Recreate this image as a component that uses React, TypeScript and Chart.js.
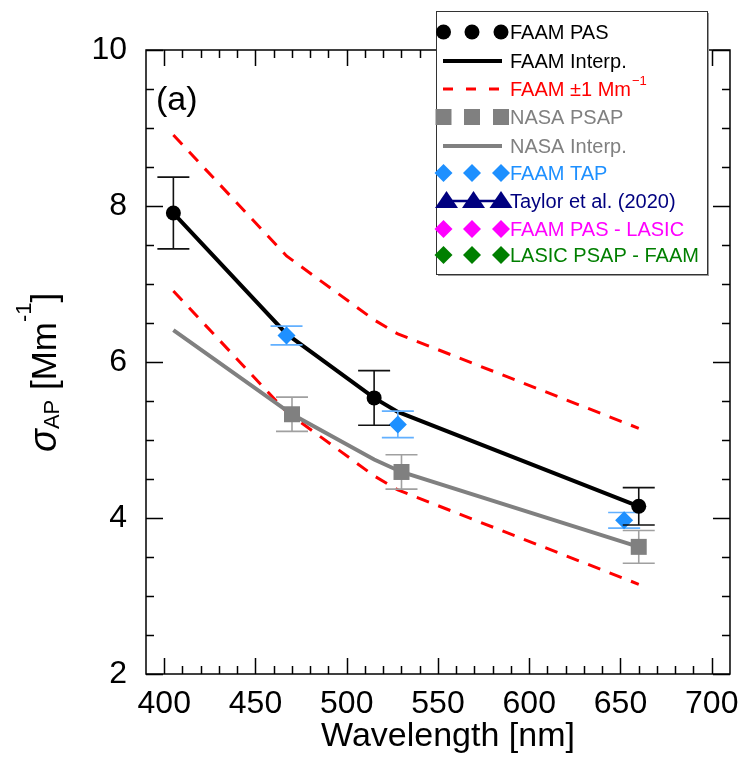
import React, { useEffect, useRef } from "react";
import { Chart, registerables } from "chart.js";

Chart.register(...registerables);

const FONT = '"Liberation Sans", Arial, Helvetica, sans-serif';

// ---- axis ticks ----
const xTickValues = [400, 450, 500, 550, 600, 650, 700];
const yTickValues = [2, 4, 6, 8, 10];

// ---- FAAM PAS ----
const pasWavelengths = [405, 515, 660];
const pasValues = [7.91, 5.54, 4.15];
const pasErrors = [0.46, 0.35, 0.24];

// ---- FAAM interpolation and ±1 Mm-1 envelope ----
const faamInterpWavelengths = [405, 467, 515, 528, 660];
const faamInterpValues = [7.91, 6.36, 5.54, 5.36, 4.15];
const faamUpperValues = [8.91, 7.36, 6.54, 6.36, 5.15];
const faamLowerValues = [6.91, 5.36, 4.54, 4.36, 3.15];

// ---- NASA PSAP ----
const psapWavelengths = [470, 530, 660];
const psapValues = [5.33, 4.59, 3.63];
const psapErrors = [0.22, 0.22, 0.21];

// ---- NASA interpolation ----
const nasaInterpWavelengths = [405, 470, 515, 530, 660];
const nasaInterpValues = [6.41, 5.33, 4.75, 4.59, 3.63];

// ---- FAAM TAP ----
const tapWavelengths = [467, 528, 652];
const tapValues = [6.34, 5.2, 3.97];
const tapErrors = [0.12, 0.17, 0.1];

// ---- legend ----
const legendLabels = [
  "FAAM PAS",
  "FAAM Interp.",
  "FAAM \u00B11 Mm",
  "NASA PSAP",
  "NASA Interp.",
  "FAAM TAP",
  "Taylor et al. (2020)",
  "FAAM PAS - LASIC",
  "LASIC PSAP - FAAM",
];

const C_BLACK = "#000000";
const C_RED = "#ff0000";
const C_GRAY = "#808080";
const C_GRAY_ERR = "#a0a0a0";
const C_BLUE = "#1e90ff";
const C_BLUE_ERR = "#62b0ff";
const C_NAVY = "#00007f";
const C_MAGENTA = "#ff00ff";
const C_GREEN = "#007f00";

const pts = (xs: number[], ys: number[]) => xs.map((x, i) => ({ x, y: ys[i] }));

function drawMarker(ctx: CanvasRenderingContext2D, kind: string, x: number, y: number, color: string) {
  ctx.fillStyle = color;
  ctx.beginPath();
  if (kind === "circle") {
    ctx.arc(x, y, 7.5, 0, Math.PI * 2);
  } else if (kind === "square") {
    ctx.rect(x - 8, y - 8, 16, 16);
  } else if (kind === "diamond") {
    ctx.moveTo(x - 9, y);
    ctx.lineTo(x, y - 9);
    ctx.lineTo(x + 9, y);
    ctx.lineTo(x, y + 9);
    ctx.closePath();
  } else if (kind === "triangle") {
    ctx.moveTo(x - 11.5, y + 6);
    ctx.lineTo(x, y - 11);
    ctx.lineTo(x + 11.5, y + 6);
    ctx.closePath();
  }
  ctx.fill();
}

const errorBarPlugin = {
  id: "errorBars",
  beforeDatasetDraw(chart: any, args: any) {
    const ds = chart.data.datasets[args.index];
    if (!ds.errors) return;
    const { ctx, scales } = chart;
    const xs = scales.x;
    const ys = scales.y;
    ctx.save();
    ctx.strokeStyle = ds.errorColor;
    ctx.lineWidth = 1.6;
    ds.data.forEach((p: any, i: number) => {
      const px = xs.getPixelForValue(p.x);
      const top = ys.getPixelForValue(p.y + ds.errors[i]);
      const bot = ys.getPixelForValue(p.y - ds.errors[i]);
      ctx.beginPath();
      ctx.moveTo(px, top);
      ctx.lineTo(px, bot);
      ctx.moveTo(px - 16, top);
      ctx.lineTo(px + 16, top);
      ctx.moveTo(px - 16, bot);
      ctx.lineTo(px + 16, bot);
      ctx.stroke();
    });
    ctx.restore();
  },
};

const framePlugin = {
  id: "frame",
  beforeDatasetsDraw(chart: any) {
    const { ctx, chartArea: a, scales } = chart;
    const xs = scales.x;
    const ys = scales.y;
    ctx.save();
    ctx.strokeStyle = "#000";
    ctx.lineWidth = 1.5;
    ctx.strokeRect(a.left, a.top, a.right - a.left, a.bottom - a.top);
    ctx.beginPath();
    for (let v = 400; v <= 700; v += 10) {
      const px = Math.round(xs.getPixelForValue(v)) + 0.5;
      const len = v % 50 === 0 ? 16 : 8;
      ctx.moveTo(px, a.bottom);
      ctx.lineTo(px, a.bottom - len);
      ctx.moveTo(px, a.top);
      ctx.lineTo(px, a.top + len);
    }
    for (let v = 2; v <= 10; v += 0.5) {
      const py = Math.round(ys.getPixelForValue(v)) + 0.5;
      const len = v % 2 === 0 ? 17 : 8;
      ctx.moveTo(a.left, py);
      ctx.lineTo(a.left + len, py);
      ctx.moveTo(a.right, py);
      ctx.lineTo(a.right - len, py);
    }
    ctx.stroke();

    // axis titles and panel label
    ctx.fillStyle = "#000";
    ctx.textBaseline = "alphabetic";
    ctx.textAlign = "center";
    ctx.font = `34px ${FONT}`;
    ctx.fillText("Wavelength [nm]", 448, 746);

    ctx.textAlign = "left";
    ctx.font = `34px ${FONT}`;
    ctx.fillText("(a)", 156, 110);

    ctx.save();
    ctx.translate(56, 452);
    ctx.rotate(-Math.PI / 2);
    let cx = 0;
    ctx.font = `italic 38px ${FONT}`;
    ctx.fillText("\u03C3", cx, 0);
    cx += ctx.measureText("\u03C3").width;
    ctx.font = `22px ${FONT}`;
    ctx.fillText("AP", cx, 3);
    cx += ctx.measureText("AP").width;
    ctx.font = `35px ${FONT}`;
    ctx.fillText(" [Mm", cx, 0);
    cx += ctx.measureText(" [Mm").width;
    ctx.font = `22px ${FONT}`;
    ctx.fillText("-1", cx, -25);
    cx += ctx.measureText("-1").width;
    ctx.font = `35px ${FONT}`;
    ctx.fillText("]", cx, 0);
    ctx.restore();
    ctx.restore();
  },
};

const legendPlugin = {
  id: "customLegend",
  afterDraw(chart: any) {
    const { ctx } = chart;
    const bx = 436, by = 11, bw = 271, bh = 263;
    ctx.save();
    ctx.fillStyle = "#9a9a9a";
    ctx.fillRect(bx + 2, by + 2, bw, bh);
    ctx.fillStyle = "#ffffff";
    ctx.fillRect(bx, by, bw, bh);
    ctx.strokeStyle = "#333";
    ctx.lineWidth = 1;
    ctx.strokeRect(bx + 0.5, by + 0.5, bw, bh);

    const rows = [32, 61, 89, 117, 146, 173, 201, 229, 255];
    const sx = [443.5, 472, 501];
    const colors = [C_BLACK, C_BLACK, C_RED, C_GRAY, C_GRAY, C_BLUE, C_NAVY, C_MAGENTA, C_GREEN];
    const kinds = ["circle", "line", "dash", "square", "line", "diamond", "triangleLine", "diamond", "diamond"];
    legendLabels.forEach((label, i) => {
      const y = rows[i];
      const col = colors[i];
      const kind = kinds[i];
      if (kind === "line" || kind === "dash") {
        ctx.strokeStyle = col;
        ctx.lineWidth = kind === "line" ? 4 : 3;
        ctx.setLineDash(kind === "dash" ? [10, 13] : []);
        ctx.beginPath();
        ctx.moveTo(443, y);
        ctx.lineTo(502, y);
        ctx.stroke();
        ctx.setLineDash([]);
      } else if (kind === "triangleLine") {
        ctx.strokeStyle = col;
        ctx.lineWidth = 2.5;
        ctx.beginPath();
        ctx.moveTo(444, y);
        ctx.lineTo(502, y);
        ctx.stroke();
        [446.5, 473.5, 501].forEach((x) => drawMarker(ctx, "triangle", x, y + 1, col));
      } else {
        sx.forEach((x) => drawMarker(ctx, kind, x, y, col));
      }
      ctx.fillStyle = col;
      ctx.font = `20px ${FONT}`;
      ctx.textBaseline = "middle";
      ctx.textAlign = "left";
      ctx.fillText(label, 510, y + 1);
      if (i === 2) {
        const w = ctx.measureText(label).width;
        ctx.font = `13px ${FONT}`;
        ctx.fillText("\u22121", 510 + w + 1, y - 8);
      }
    });
    ctx.restore();
  },
};

export default function App() {
  const canvasRef = useRef<HTMLCanvasElement | null>(null);

  useEffect(() => {
    if (!canvasRef.current) return;
    const chart = new Chart(canvasRef.current, {
      type: "line",
      data: {
        datasets: [
          {
            label: "FAAM PAS",
            data: pts(pasWavelengths, pasValues),
            showLine: false,
            pointStyle: "circle",
            pointRadius: 7.5,
            pointBackgroundColor: C_BLACK,
            pointBorderColor: C_BLACK,
            pointBorderWidth: 0,
            errors: pasErrors,
            errorColor: "#111",
            order: 0,
          } as any,
          {
            label: "FAAM TAP",
            data: pts(tapWavelengths, tapValues),
            showLine: false,
            pointStyle: "rectRot",
            pointRadius: 9,
            pointBackgroundColor: C_BLUE,
            pointBorderColor: C_BLUE,
            pointBorderWidth: 0,
            errors: tapErrors,
            errorColor: C_BLUE_ERR,
            order: 1,
          } as any,
          {
            label: "NASA PSAP",
            data: pts(psapWavelengths, psapValues),
            showLine: false,
            pointStyle: "rect",
            pointRadius: 11.3,
            pointBackgroundColor: C_GRAY,
            pointBorderColor: C_GRAY,
            pointBorderWidth: 0,
            errors: psapErrors,
            errorColor: C_GRAY_ERR,
            order: 2,
          } as any,
          {
            label: "FAAM Interp.",
            data: pts(faamInterpWavelengths, faamInterpValues),
            borderColor: C_BLACK,
            borderWidth: 4,
            pointRadius: 0,
            tension: 0,
            order: 3,
          },
          {
            label: "NASA Interp.",
            data: pts(nasaInterpWavelengths, nasaInterpValues),
            borderColor: C_GRAY,
            borderWidth: 4,
            pointRadius: 0,
            tension: 0,
            order: 4,
          },
          {
            label: "FAAM +1",
            data: pts(faamInterpWavelengths, faamUpperValues),
            borderColor: C_RED,
            borderWidth: 3,
            borderDash: [13, 10],
            pointRadius: 0,
            tension: 0,
            order: 5,
          },
          {
            label: "FAAM -1",
            data: pts(faamInterpWavelengths, faamLowerValues),
            borderColor: C_RED,
            borderWidth: 3,
            borderDash: [13, 10],
            pointRadius: 0,
            tension: 0,
            order: 6,
          },
        ],
      },
      options: {
        animation: false,
        responsive: false,
        devicePixelRatio: 1,
        layout: { padding: { left: 0, top: 50, right: 18, bottom: 0 } },
        plugins: {
          legend: { display: false },
          tooltip: { enabled: false },
        },
        scales: {
          x: {
            type: "linear",
            min: 390,
            max: 710,
            grid: { display: false, drawTicks: false },
            border: { display: false },
            afterBuildTicks: (s: any) => {
              s.ticks = xTickValues.map((v) => ({ value: v }));
            },
            afterFit: (s: any) => {
              s.height = 86;
            },
            ticks: {
              color: "#000",
              padding: 11,
              maxRotation: 0,
              autoSkip: false,
              font: { family: FONT, size: 32 },
            },
          },
          y: {
            type: "linear",
            min: 2,
            max: 10,
            grid: { display: false, drawTicks: false },
            border: { display: false },
            afterBuildTicks: (s: any) => {
              s.ticks = yTickValues.map((v) => ({ value: v }));
            },
            afterFit: (s: any) => {
              s.width = 146;
            },
            ticks: {
              color: "#000",
              padding: 19,
              autoSkip: false,
              font: { family: FONT, size: 32 },
            },
          },
        },
      },
      plugins: [framePlugin, errorBarPlugin, legendPlugin],
    });
    return () => chart.destroy();
  }, []);

  return (
    <div style={{ position: "absolute", left: 0, top: 0, width: 750, height: 760, background: "#fff" }}>
      <canvas ref={canvasRef} width={750} height={760} style={{ display: "block" }} />
    </div>
  );
}
